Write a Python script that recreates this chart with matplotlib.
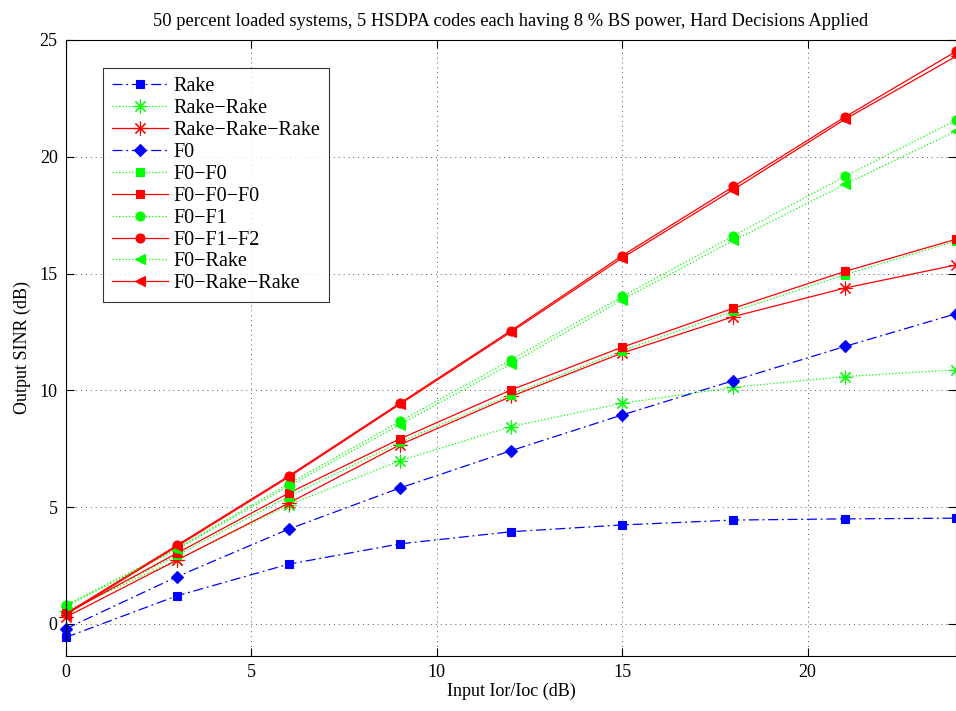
import matplotlib
matplotlib.use("Agg")
import matplotlib.pyplot as plt

# x axis: input Ior/Ioc (dB)
ior_ioc = [0, 3, 6, 9, 12, 15, 18, 21, 24]

# output SINR (dB) per receiver chain
rake = [-0.57, 1.21, 2.56, 3.43, 3.95, 4.24, 4.45, 4.50, 4.53]
rake_rake = [0.55, 2.75, 5.10, 6.99, 8.45, 9.45, 10.13, 10.59, 10.88]
rake_rake_rake = [0.30, 2.74, 5.17, 7.67, 9.74, 11.60, 13.16, 14.38, 15.37]
f0 = [-0.20, 2.03, 4.06, 5.82, 7.42, 8.95, 10.42, 11.88, 13.28]
f0_f0 = [0.50, 2.95, 5.45, 7.78, 9.82, 11.70, 13.38, 14.95, 16.40]
f0_f0_f0 = [0.45, 3.04, 5.60, 7.92, 10.02, 11.85, 13.52, 15.09, 16.47]
f0_f1 = [0.80, 3.25, 6.00, 8.67, 11.31, 14.02, 16.62, 19.16, 21.56]
f0_f1_f2 = [0.45, 3.38, 6.33, 9.45, 12.56, 15.77, 18.73, 21.70, 24.51]
f0_rake = [0.75, 3.20, 5.90, 8.53, 11.14, 13.88, 16.42, 18.82, 21.10]
f0_rake_rake = [0.40, 3.33, 6.28, 9.40, 12.50, 15.67, 18.60, 21.60, 24.30]

labels = ["Rake", "Rake\u2212Rake", "Rake\u2212Rake\u2212Rake", "F0", "F0\u2212F0",
          "F0\u2212F0\u2212F0", "F0\u2212F1", "F0\u2212F1\u2212F2", "F0\u2212Rake",
          "F0\u2212Rake\u2212Rake"]

plt.rcParams['font.family'] = ['Liberation Serif', 'DejaVu Serif']

fig = plt.figure(figsize=(9.56, 7.11), dpi=100)
ax = fig.add_axes([66 / 956, 1 - 656 / 711, 1 - 66 / 956, (656 - 40) / 711])

dashdot = (0, (8, 3, 1.5, 3))
star = (8, 2, 0)  # matlab-style asterisk
series = [
    (rake, "b", dashdot, "s", 6),
    (rake_rake, "#00ff00", ":", star, 10),
    (rake_rake_rake, "r", "-", star, 10),
    (f0, "b", dashdot, "D", 6),
    (f0_f0, "#00ff00", ":", "s", 6),
    (f0_f0_f0, "r", "-", "s", 6),
    (f0_f1, "#00ff00", ":", "o", 6.5),
    (f0_f1_f2, "r", "-", "o", 6.5),
    (f0_rake, "#00ff00", ":", "<", 7),
    (f0_rake_rake, "r", "-", "<", 7),
]

for (vals, col, ls, mk, ms), lab in zip(series, labels):
    ax.plot(ior_ioc, vals, color=col, linestyle=ls, marker=mk, markersize=ms,
            markeredgecolor=col, markerfacecolor=col, linewidth=0.9,
            markeredgewidth=0.8, label=lab, clip_on=False)

ax.set_xlim(0, 24)
ax.set_ylim(-1.37, 25)
ax.set_xticks([0, 5, 10, 15, 20])
ax.set_yticks([0, 5, 10, 15, 20, 25])
ax.grid(True, color="#555555", linestyle=(0, (1, 4)), linewidth=0.7)
ax.tick_params(direction="in", top=True, right=True, labelsize=13, length=6, pad=6)
for sp in ax.spines.values():
    sp.set_linewidth(0.8)

ax.set_xlabel("Input Ior/Ioc (dB)", fontsize=13, labelpad=1)
ax.set_ylabel("Output SINR (dB)", fontsize=13, labelpad=6)
ax.set_title("50 percent loaded systems, 5 HSDPA codes each having 8 % BS power, Hard Decisions Applied",
             fontsize=13.3, pad=10)

leg = ax.legend(loc="upper left", bbox_to_anchor=((103 - 66) / 890, 1 - (68 - 40) / 616),
                fontsize=14.5, frameon=True, fancybox=False, edgecolor="black",
                handlelength=2.8, handletextpad=0.25, labelspacing=0.14,
                borderpad=0.45, borderaxespad=0)
leg.get_frame().set_linewidth(0.8)

fig.savefig("out.png", dpi=100)
